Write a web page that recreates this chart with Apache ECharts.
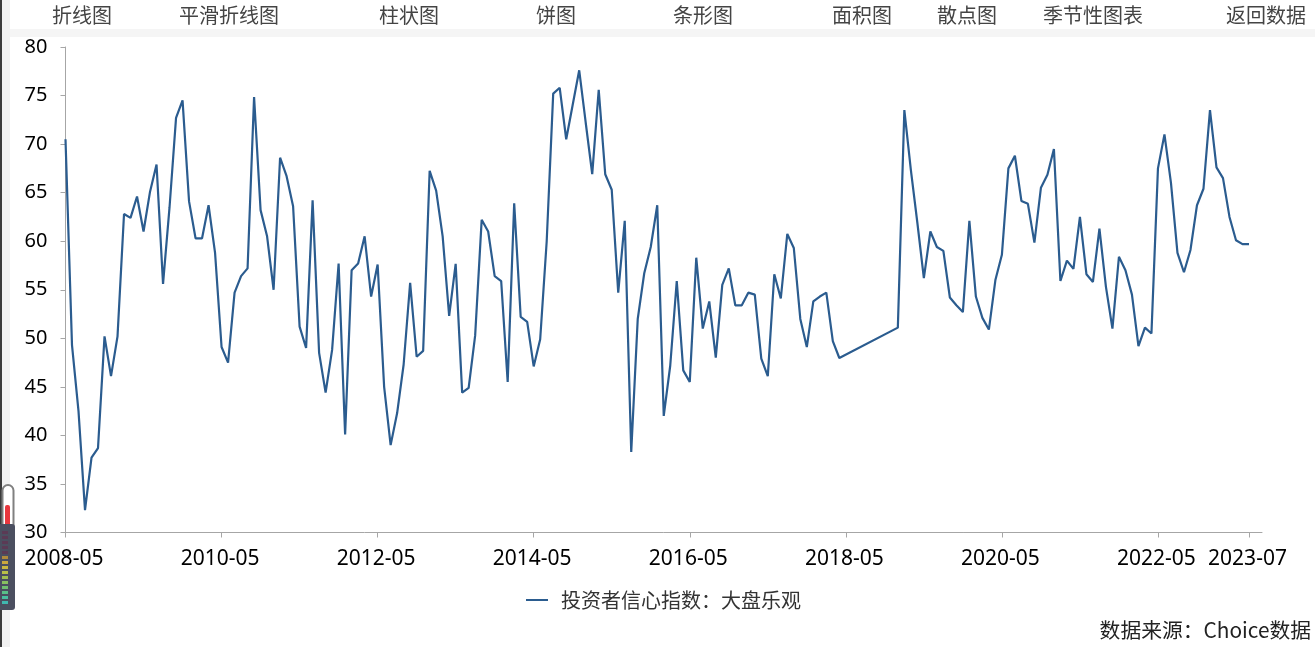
<!DOCTYPE html>
<html>
<head>
<meta charset="utf-8">
<style>html,body{margin:0;padding:0;background:#fff;overflow:hidden}#c{width:1315px;height:647px}</style>
<script src="https://cdn.jsdelivr.net/npm/echarts@6/dist/echarts.min.js"></script>
</head>
<body>
<div id="c"></div>
<script>
const seriesName = '投资者信心指数：大盘乐观';
const sourceNote = '数据来源：Choice数据';
const tickLabels = ['2008-05','2010-05','2012-05','2014-05','2016-05','2018-05','2020-05','2022-05','2023-07'];
const menuItems = ['折线图','平滑折线图','柱状图','饼图','条形图','面积图','散点图','季节性图表','返回数据'];
const menuLefts = [52,179,379,536,673,832,937,1043,1226];
const values = [
70.5,49.3,42.5,32.3,37.7,38.7,50.2,46.1,50.2,62.8,62.4,64.6,61,65.1,67.9,55.6,63.5,72.7,74.5,64.1,
60.3,60.3,63.7,58.8,49.1,47.5,54.7,56.4,57.2,74.85,63.2,60.5,55,68.6,66.7,63.6,51.2,49,64.2,48.5,
44.4,48.8,57.7,40.1,57,57.7,60.5,54.3,57.6,45,39,42.3,47.3,55.7,48.1,48.7,67.25,65.2,60.5,52.3,
57.66,44.4,44.9,50.3,62.2,61,56.4,55.9,45.5,63.9,52.2,51.7,47.1,49.9,60,75.2,75.8,70.5,74.05,77.6,
72.2,66.9,75.6,66.9,65.3,54.7,62.1,38.3,52,56.7,59.4,63.7,42,47.2,55.9,46.7,45.5,58.3,51,53.8,
48,55.5,57.2,53.4,53.4,54.7,54.5,47.9,46.1,56.6,54.1,60.75,59.3,52,49.1,53.8,54.3,54.7,49.7,47.97,
null,null,null,null,null,null,null,null,
51.1,73.5,67.35,61.9,56.2,61,59.4,59,54.2,53.4,52.7,62.1,54.3,52.1,50.9,56,58.6,67.5,68.8,64.15,
63.85,59.85,65.5,66.85,69.5,55.9,58,57.15,62.5,56.6,55.8,61.3,55.3,51,58.4,57,54.5,49.2,51.1,50.5,
67.5,71,66,58.8,56.8,59.1,63.7,65.4,73.5,67.6,66.5,62.5,60.1,59.7,59.7
];
const trailingBlankMonths = 2;

const categories = [];
for (let i = 0; i < values.length + trailingBlankMonths; i++) {
  const m = 4 + i; // month index from 2008-05
  categories.push((2008 + Math.floor(m / 12)) + '-' + String(m % 12 + 1).padStart(2, '0'));
}
const isTick = (idx, val) => tickLabels.includes(val);

const FONT = '"Noto Sans CJK SC","Noto Sans",sans-serif';
const LATIN = '"Noto Sans","Noto Sans CJK SC",sans-serif';

const graphics = [
  {type:'rect',silent:true,z:0,shape:{x:0,y:0,width:10,height:647},style:{fill:'#f1f1f1'}},
  {type:'rect',silent:true,z:0,shape:{x:0,y:0,width:2,height:647},style:{fill:'#3a3a3a'}},
  {type:'rect',silent:true,z:0,shape:{x:10,y:29,width:1305,height:8},style:{fill:'#f5f5f5'}}
];
menuItems.forEach((t,i)=>graphics.push({type:'text',silent:true,z:5,x:menuLefts[i],y:15,
  style:{text:t,font:'20px '+FONT,fill:'#444',textVerticalAlign:'middle'}}));
graphics.push({type:'text',silent:true,z:5,x:1311,y:630,
  style:{text:sourceNote,font:'20.8px '+FONT,fill:'#222',textAlign:'right',textVerticalAlign:'middle'}});
// small thermometer-like widget overlapping the left edge
graphics.push({type:'rect',silent:true,z:6,shape:{x:2.5,y:485,width:11,height:50,r:[6,6,0,0]},style:{fill:'#fff',stroke:'#808080',lineWidth:2}});
graphics.push({type:'rect',silent:true,z:7,shape:{x:5,y:505,width:5,height:22,r:[2,2,0,0]},style:{fill:'#e8373e'}});
graphics.push({type:'rect',silent:true,z:8,shape:{x:0,y:524,width:15,height:86,r:[0,3,3,0]},style:{fill:'#4b4f60'}});
const ledColors = ['#5b3a55','#5b3a55','#5b3a55','#5b3a55','#5b3a55','#b08a3c','#c9a83e','#c9b840','#b8c048','#a0c050','#88c060','#70c070','#58c088','#48c0a0','#40b8b0'];
ledColors.forEach((c,i)=>graphics.push({type:'rect',silent:true,z:9,shape:{x:2,y:531+i*5,width:6,height:3},style:{fill:c}}));

const chart = echarts.init(document.getElementById('c'));
chart.setOption({
  animation:false,
  backgroundColor:'#fff',
  grid:{left:65.5,right:53,top:47,height:485.5,containLabel:false},
  legend:{
    left:521,top:585,
    icon:'rect',
    itemWidth:22,itemHeight:2,
    textStyle:{fontFamily:FONT,fontSize:20,color:'#333',padding:[0,0,0,8]},
    data:[seriesName]
  },
  xAxis:{
    type:'category',boundaryGap:false,data:categories,
    axisLine:{lineStyle:{color:'#a6a6a6',width:1}},
    axisTick:{show:true,alignWithLabel:true,interval:isTick,length:5,lineStyle:{color:'#a6a6a6'}},
    axisLabel:{interval:isTick,hideOverlap:false,margin:16,padding:[0,3,0,0],color:'#000',fontSize:21,fontFamily:LATIN}
  },
  yAxis:{
    type:'value',min:30,max:80,interval:5,
    axisLine:{show:true,lineStyle:{color:'#a6a6a6',width:1}},
    axisTick:{show:true,length:5,lineStyle:{color:'#a6a6a6'}},
    splitLine:{show:false},
    axisLabel:{margin:18,color:'#000',fontSize:20,fontFamily:LATIN}
  },
  series:[{
    name:seriesName,type:'line',data:values,connectNulls:true,showSymbol:false,symbol:'none',
    lineStyle:{color:'#2b5c8f',width:2.2},itemStyle:{color:'#2b5c8f'}
  }],
  graphic:{elements:graphics}
});
</script>
</body>
</html>
